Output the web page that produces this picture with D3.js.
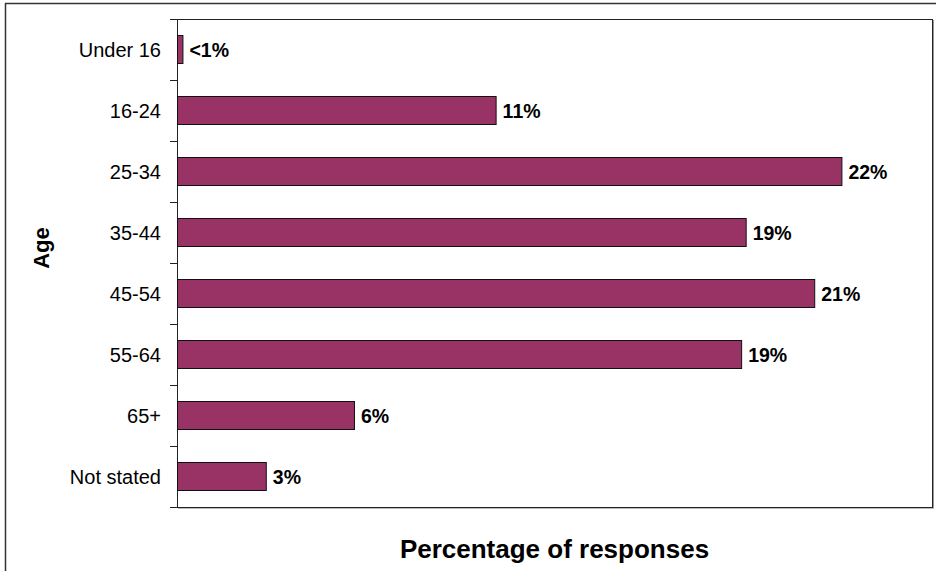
<!DOCTYPE html>
<html>
<head>
<meta charset="utf-8">
<script src="https://cdn.jsdelivr.net/npm/d3@7/dist/d3.min.js"></script>
<style>
  html, body { margin: 0; padding: 0; background: #fff; }
  svg { display: block; }
  text { font-family: Arial, "Liberation Sans", sans-serif; }
</style>
</head>
<body>
<svg id="chart" width="936" height="571"></svg>
<script>
const categories = ["Under 16", "16-24", "25-34", "35-44", "45-54", "55-64", "65+", "Not stated"];
const values = [0.18, 10.55, 22.0, 18.83, 21.1, 18.68, 5.86, 2.94];
const valueLabels = ["<1%", "11%", "22%", "19%", "21%", "19%", "6%", "3%"];
const xDomain = [0, 25];

const svg = d3.select("#chart");
const W = 936, H = 571;
const plot = { left: 177, right: 932, top: 19, bottom: 507 };

// outer frame
svg.append("rect").attr("x", 0).attr("y", 0).attr("width", W).attr("height", H).attr("fill", "#fff");
svg.append("line").attr("x1", 5.5).attr("x2", 5.5).attr("y1", 3).attr("y2", H).attr("stroke", "#333").attr("stroke-width", 1.5);
svg.append("line").attr("x1", 5).attr("x2", W).attr("y1", 3.5).attr("y2", 3.5).attr("stroke", "#333").attr("stroke-width", 1.5);

const x = d3.scaleLinear().domain(xDomain).range([plot.left, plot.right]);
const yTicks = d3.scaleBand().domain(categories).range([plot.top, plot.bottom]).padding(0);
const yBars = d3.scaleBand().domain(categories).range([plot.top, plot.bottom]).paddingInner(0.54).paddingOuter(0.27);

// plot area shadow + border
svg.append("line").attr("x1", plot.right + 1.5).attr("x2", plot.right + 1.5).attr("y1", plot.top + 1).attr("y2", plot.bottom + 2).attr("stroke", "#999").attr("stroke-width", 1);
svg.append("line").attr("x1", plot.left + 1).attr("x2", plot.right + 2).attr("y1", plot.bottom + 1.5).attr("y2", plot.bottom + 1.5).attr("stroke", "#bbb").attr("stroke-width", 1);
svg.append("rect").attr("x", plot.left + 0.5).attr("y", plot.top + 0.5)
  .attr("width", plot.right - plot.left).attr("height", plot.bottom - plot.top)
  .attr("fill", "none").attr("stroke", "#222").attr("stroke-width", 1);

// bars
svg.append("g").selectAll("rect").data(categories).join("rect")
  .attr("x", x(0) + 0.5)
  .attr("y", d => Math.round(yBars(d)) + 0.5)
  .attr("width", (d, i) => x(values[i]) - x(0))
  .attr("height", Math.round(yBars.bandwidth()))
  .attr("fill", "#993366")
  .attr("stroke", "#111")
  .attr("stroke-width", 1);

// y axis ticks at band boundaries
const boundaries = categories.map(c => yTicks(c)).concat([plot.bottom]);
svg.append("g").selectAll("line").data(boundaries).join("line")
  .attr("x1", plot.left - 7).attr("x2", plot.left + 0.5)
  .attr("y1", d => Math.round(d) + 0.5).attr("y2", d => Math.round(d) + 0.5)
  .attr("stroke", "#222");

// category labels
svg.append("g").selectAll("text").data(categories).join("text")
  .attr("x", 161)
  .attr("y", d => yTicks(d) + yTicks.bandwidth() / 2)
  .attr("text-anchor", "end")
  .attr("dominant-baseline", "central")
  .attr("font-size", 20)
  .attr("fill", "#000")
  .text(d => d);

// value labels
svg.append("g").selectAll("text").data(categories).join("text")
  .attr("x", (d, i) => x(values[i]) + 7)
  .attr("y", d => yTicks(d) + yTicks.bandwidth() / 2)
  .attr("dominant-baseline", "central")
  .attr("font-size", 19.5)
  .attr("font-weight", "bold")
  .attr("fill", "#000")
  .text((d, i) => valueLabels[i]);

// axis titles
svg.append("text")
  .attr("x", (plot.left + plot.right) / 2)
  .attr("y", 549)
  .attr("text-anchor", "middle")
  .attr("dominant-baseline", "central")
  .attr("font-size", 26)
  .attr("font-weight", "bold")
  .text("Percentage of responses");

svg.append("text")
  .attr("transform", `translate(41, 248) rotate(-90)`)
  .attr("text-anchor", "middle")
  .attr("dominant-baseline", "central")
  .attr("font-size", 22)
  .attr("font-weight", "bold")
  .text("Age");
</script>
</body>
</html>
